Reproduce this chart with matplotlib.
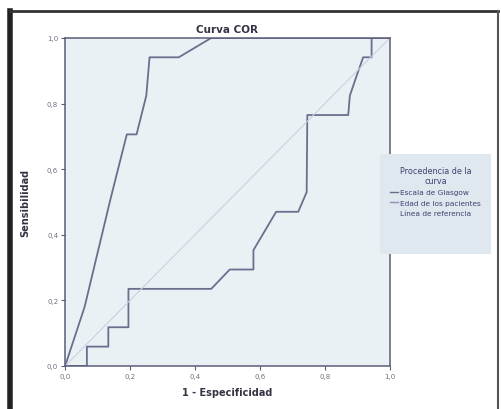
import matplotlib
matplotlib.use("Agg")
import matplotlib.pyplot as plt
from matplotlib.lines import Line2D
from matplotlib.patches import Rectangle

# Curva COR (sensibilidad en pasos de 1/17)
glasgow_x = [0.0, 0.06, 0.14, 0.19, 0.22, 0.25, 0.26, 0.35, 0.45, 1.0]
glasgow_y = [0.0, 0.18, 0.51, 0.706, 0.706, 0.824, 0.941, 0.941, 1.0, 1.0]

edad_x = [0.0, 0.067, 0.067, 0.133, 0.133, 0.195, 0.195, 0.45, 0.507, 0.58, 0.58,
          0.65, 0.718, 0.744, 0.746, 0.872, 0.877, 0.897, 0.918, 0.944, 0.944, 1.0]
edad_y = [0.0, 0.0, 0.059, 0.059, 0.118, 0.118, 0.235, 0.235, 0.294, 0.294, 0.353,
          0.47, 0.47, 0.53, 0.765, 0.765, 0.824, 0.882, 0.941, 0.941, 1.0, 1.0]

ref_x = [0.0, 1.0]
ref_y = [0.0, 1.0]

ticks = [0.0, 0.2, 0.4, 0.6, 0.8, 1.0]
tick_labels = ["0,0", "0,2", "0,4", "0,6", "0,8", "1,0"]

curve_color = "#6b6f8e"

fig = plt.figure(figsize=(5.01, 4.10), dpi=100)
ax = fig.add_axes([0.130, 0.105, 0.648, 0.800])
ax.set_facecolor("#e9f1f5")

ax.plot(glasgow_x, glasgow_y, color=curve_color, lw=1.3)
ax.plot(edad_x, edad_y, color=curve_color, lw=1.3)
ax.plot(ref_x, ref_y, color="#d3cde0", lw=0.8)

ax.set_xlim(0, 1)
ax.set_ylim(0, 1)
ax.set_xticks(ticks)
ax.set_xticklabels(tick_labels, fontsize=5, color="#707080")
ax.set_yticks(ticks)
ax.set_yticklabels(tick_labels, fontsize=5, color="#707080")
ax.tick_params(length=3, width=0.8, color="#5a5d78", pad=2)
for s in ax.spines.values():
    s.set_color("#5a5d78")
    s.set_linewidth(1.1)

ax.set_title("Curva COR", fontsize=7.5, fontweight="bold", color="#333344", pad=4)
ax.set_xlabel("1 - Especificidad", fontsize=7, fontweight="bold", color="#333344", labelpad=6)
ax.set_ylabel("Sensibilidad", fontsize=7, fontweight="bold", color="#333344", labelpad=12)

# fondo de la leyenda (caja de SPSS)
fig.add_artist(Rectangle((0.758, 0.378), 0.222, 0.244, transform=fig.transFigure,
                         facecolor="#dfe7ef", edgecolor="none", zorder=3))

handles = [Line2D([], [], color=curve_color, lw=1),
           Line2D([], [], color="#9a8fb6", lw=1),
           Line2D([], [], color="#c9c3d8", lw=0)]
leg = fig.legend(handles, ["Escala de Glasgow", "Edad de los pacientes", "Línea de referencia"],
                 title="Procedencia de la\ncurva", loc="upper center",
                 bbox_to_anchor=(0.869, 0.62), fontsize=5.3, title_fontsize=5.8,
                 frameon=False, handlelength=1.1, handletextpad=0.3,
                 borderpad=1.0, labelspacing=0.55, labelcolor="#3d4270",
                 alignment="center")
leg.set_zorder(4)
leg.get_title().set_color("#3d4270")
leg.get_title().set_multialignment("center")

# marco del grafico
fig.add_artist(Line2D([0.02, 0.02], [0.0, 0.97], transform=fig.transFigure, color="#222222", lw=4))
fig.add_artist(Line2D([0.02, 0.995], [0.97, 0.97], transform=fig.transFigure, color="#333333", lw=2))
fig.add_artist(Line2D([0.995, 0.995], [0.0, 0.97], transform=fig.transFigure, color="#555555", lw=1.5))

fig.savefig("out.png", dpi=100)
